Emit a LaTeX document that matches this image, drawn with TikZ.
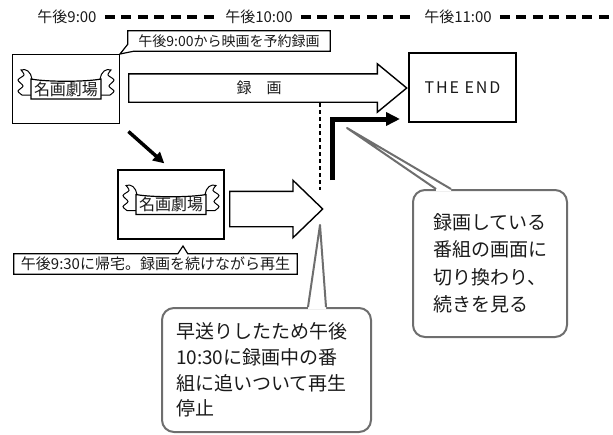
\documentclass[tikz,border=0pt]{standalone}
\usepackage{fontspec}
\setmainfont{Noto Sans CJK JP}
\newfontfamily\widefont[LetterSpace=12]{Noto Sans CJK JP}
\usetikzlibrary{arrows.meta,positioning,calc,shapes.arrows}
\definecolor{tailgray}{HTML}{6E6E6E}
\definecolor{ink}{HTML}{1A1A1A}
\tikzset{
  prog/.style   = {draw, line width=1.4pt, minimum width=107pt, minimum height=69pt,
                   inner sep=0pt, text=ink, font=\fontsize{16}{18}\selectfont},
  bantext/.style= {inner sep=0pt, text=ink, font=\fontsize{16}{18}\selectfont},
  tlabel/.style = {inner xsep=8pt, inner ysep=0pt, text=ink, font=\fontsize{15}{17}\selectfont},
  tline/.style  = {line width=3.5pt, dash pattern=on 10pt off 6.5pt},
  note/.style   = {minimum height=20pt, inner sep=0pt, text=ink, font=\fontsize{14}{16}\selectfont},
  noteline/.style = {line width=1.2pt},
  bubble/.style = {draw=tailgray, line width=2pt, rounded corners=12pt, align=left,
                   text=ink, font=\fontsize{19}{27.5}\selectfont},
  tail/.style   = {draw=tailgray, line width=2pt, line join=round},
  bigarr/.style = {single arrow, draw, line width=1.4pt, anchor=tail, minimum width=47pt,
                   single arrow head extend=10pt, single arrow tip angle=79,
                   inner xsep=0pt, inner ysep=0pt, text height=19.3pt, text depth=7.7pt,
                   text=ink, font=\fontsize{15}{17}\selectfont},
  cutline/.style= {line width=1.8pt, dash pattern=on 4pt off 3pt},
  thk/.style    = {-{Triangle[length=14pt,width=13pt]}, line width=5pt},
  ar/.style     = {-{Triangle[length=11pt,width=11pt]}, line width=3.5pt},
  scroll/.pic   = {
    \foreach \s in {1,-1}{
      \begin{scope}[xscale=\s]
        \draw[line width=1pt, fill=white] (-34,-10) .. controls (-35,-17) and (-40,-21) .. (-45,-19)
          -- plot[smooth] coordinates {(-45,-19) (-42,-14) (-48,-9) (-43,-3) (-48,2) (-44,6)}
          -- (-35,6);
      \end{scope}
    }
    \draw[line width=1.2pt, fill=white] (-35,-10) .. controls (-20,-7) and (20,-7) .. (35,-10)
      -- (35,10) -- (-35,10) -- cycle;
  }
}

\begin{document}
\begin{tikzpicture}[x=1pt, y=-1pt]
  \useasboundingbox (0,0) rectangle (613,434);

  % time line
  \node[tlabel] (t9)  at (67,17)  {午後9:00};
  \node[tlabel] (t10) at (259,17) {午後10:00};
  \node[tlabel] (t11) at (458,17) {午後11:00};
  \coordinate (tend) at (613,17);
  \draw[tline] (t9) -- (t10);
  \draw[tline] (t10) -- (t11);
  \draw[tline] (t11) -- (tend);

  % programmes
  \node[prog] (prog1) at (66,89) {};
  \pic at (prog1.center) {scroll};
  \node[bantext] (ttl1) at (prog1.center) {名画劇場};
  \node[prog] (fin) at (462.5,87.5) {\widefont THE END};
  \node[prog, minimum width=106pt] (prog2) at (171,204.5) {};
  \pic at (prog2.center) {scroll};
  \node[bantext] (ttl2) at (prog2.center) {名画劇場};

  \node[bigarr, minimum height=278pt] (rec1) at (128,88) {録　画};
  \node[bigarr, minimum height=93pt, minimum width=56pt, single arrow head extend=11pt,
        single arrow tip angle=88, text height=34pt, text depth=0pt] (rec2) at (229,209) {};

  \draw[ar, shorten <=11pt, shorten >=9pt] (prog1.south east) -- (prog2.north);

  % catching up
  \coordinate (cut1) at (320,103);
  \coordinate (cut2) at (320,190);
  \draw[cutline] (cut1) -- (cut2);
  \coordinate (jmp) at (332,180);
  \coordinate (jmpto) at (400,119);
  \draw[thk] (jmp) |- (jmpto);

  % notes
  \node[note, minimum width=202pt] (note1) at (229,41) {午後9:00から映画を予約録画};
  \coordinate (p1) at (120,54);
  \draw[noteline] (note1.north west) -- (note1.north east) -- (note1.south east)
    -- ($(note1.south west)+(6,0)$) -- (p1) -- ($(note1.south west)+(0,-7)$) -- cycle;

  \node[note, minimum width=283pt, font=\fontsize{15}{17}\selectfont] (note2) at (155.5,264)
    {午後9:30に帰宅。録画を続けながら再生};
  \coordinate (p2) at (183,246);
  \draw[noteline] (note2.north west) -- ($(note2.north west)+(164,0)$) -- (p2)
    -- ($(note2.north west)+(174,0)$) -- (note2.north east) -- (note2.south east)
    -- (note2.south west) -- cycle;

  % speech bubbles
  \node[bubble, minimum width=154pt, minimum height=147pt, text width=114pt,
        inner xsep=20pt] (bub1) at (490,263.5)
    {録画している\\番組の画面に\\切り換わり、\\続きを見る};
  \coordinate (q1) at (347,128);
  \fill[white] ($(bub1.north west)+(24,0)$) -- (q1) -- ($(bub1.north west)+(39,0)$)
    -- ($(bub1.north west)+(39,2)$) -- ($(bub1.north west)+(24,2)$) -- cycle;
  \draw[tail] ($(bub1.north west)+(24,0)$) -- (q1) -- ($(bub1.north west)+(39,0)$);

  \node[bubble, minimum width=209pt, minimum height=124pt, text width=181pt,
        inner xsep=14pt, font=\fontsize{19}{25.8}\selectfont] (bub2) at (266.5,370)
    {早送りしたため午後\\10:30に録画中の番\\組に追いついて再生\\停止};
  \coordinate (q2) at (320,225);
  \fill[white] ($(bub2.north west)+(147,0)$) -- (q2) -- ($(bub2.north west)+(165,0)$)
    -- ($(bub2.north west)+(165,2)$) -- ($(bub2.north west)+(147,2)$) -- cycle;
  \draw[tail] ($(bub2.north west)+(147,0)$) -- (q2) -- ($(bub2.north west)+(165,0)$);
\end{tikzpicture}
\end{document}
